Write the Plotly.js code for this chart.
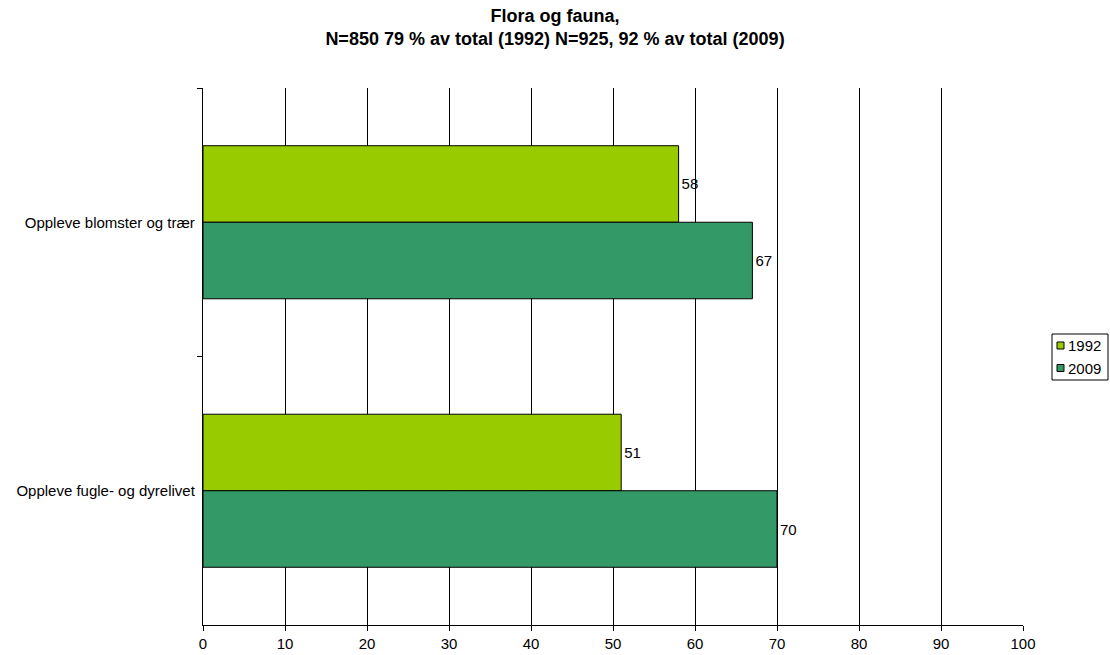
<!DOCTYPE html>
<html>
<head>
<meta charset="utf-8">
<script src="https://cdn.plot.ly/plotly-3.0.1.min.js"></script>
<style>html,body{margin:0;padding:0;background:#fff;}#chart{width:1110px;height:655px;}</style>
</head>
<body>
<div id="chart"></div>
<script>
const categories = ["Oppleve blomster og trær", "Oppleve fugle- og dyrelivet"];
const values1992 = [58, 51];
const values2009 = [67, 70];
const seriesNames = ["1992", "2009"];
const seriesColors = ["#99CC00", "#339966"];
const xTicks = [0, 10, 20, 30, 40, 50, 60, 70, 80, 90, 100];

const FAM = "Liberation Sans, Arial, sans-serif";
const font = {family: FAM, size: 15, color: "#000"};

// plot area in pixels (for placing the hand-drawn legend)
const M = {l: 203, r: 87, t: 88, b: 30};
const W = 1110, H = 655;
const pw = W - M.l - M.r, ph = H - M.t - M.b;
const px = x => (x - M.l) / pw;
const py = y => (H - M.b - y) / ph;

const traces = [
  {type: "bar", orientation: "h", name: seriesNames[0], y: categories, x: values1992,
   marker: {color: seriesColors[0], line: {color: "#000", width: 1}},
   text: values1992.map(String), textposition: "outside", cliponaxis: false,
   textfont: font},
  {type: "bar", orientation: "h", name: seriesNames[1], y: categories, x: values2009,
   marker: {color: seriesColors[1], line: {color: "#000", width: 1}},
   text: values2009.map(String), textposition: "outside", cliponaxis: false,
   textfont: font}
];

// custom legend
const shapes = [
  {type: "rect", xref: "paper", yref: "paper", x0: px(1052), x1: px(1108), y0: py(380), y1: py(334),
   line: {color: "#000", width: 1}, fillcolor: "#fff"}
];
const annotations = [];
const legendRows = [345.5, 368];
seriesNames.forEach((nm, i) => {
  const cy = legendRows[i];
  shapes.push({type: "rect", xref: "paper", yref: "paper", x0: px(1057), x1: px(1064),
    y0: py(cy + 3.5), y1: py(cy - 3.5), line: {color: "#000", width: 1}, fillcolor: seriesColors[i]});
  annotations.push({xref: "paper", yref: "paper", x: px(1066), y: py(cy), xanchor: "left", yanchor: "middle",
    text: nm, showarrow: false, font: font});
});

const layout = {
  width: W, height: H,
  paper_bgcolor: "#fff", plot_bgcolor: "#fff",
  font: font,
  margin: {l: M.l, r: M.r, t: M.t, b: M.b, pad: 0},
  title: {text: "<b>Flora og fauna,<br>N=850 79 % av total (1992) N=925, 92 % av total (2009)</b>",
          font: {family: FAM, size: 18, color: "#000"},
          x: 0.5, xanchor: "center", xref: "container", y: 1, yref: "paper", yanchor: "bottom",
          pad: {b: 66}},
  barmode: "group", bargap: 0.43, bargroupgap: 0,
  xaxis: {range: [0, 100], tickvals: xTicks, ticktext: xTicks.map(String),
          showgrid: true, gridcolor: "#000", gridwidth: 1,
          showline: true, linecolor: "#000", linewidth: 1,
          ticks: "outside", ticklen: 5, tickcolor: "#000", zeroline: false,
          tickfont: font, fixedrange: true},
  yaxis: {autorange: "reversed", type: "category", tickson: "boundaries",
          showline: true, linecolor: "#000", linewidth: 1,
          ticks: "outside", ticklen: 5, tickcolor: "#000", showgrid: false,
          tickfont: font, ticksuffix: " ", fixedrange: true},
  showlegend: false,
  shapes: shapes,
  annotations: annotations
};

Plotly.newPlot("chart", traces, layout, {displayModeBar: false, staticPlot: true});
</script>
</body>
</html>
